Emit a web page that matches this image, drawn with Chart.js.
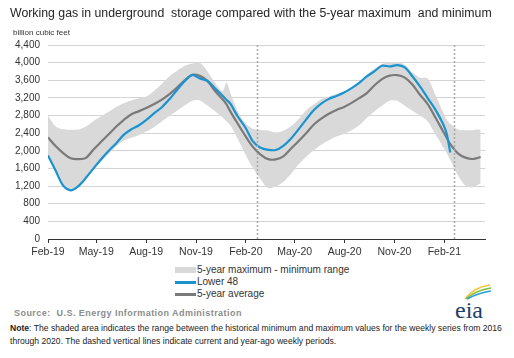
<!DOCTYPE html>
<html>
<head>
<meta charset="utf-8">
<script src="https://cdn.jsdelivr.net/npm/chart.js@4.4.1/dist/chart.umd.min.js"></script>
<style>
  html, body { margin: 0; padding: 0; background: #fff; }
  body { width: 514px; height: 358px; position: relative; overflow: hidden;
         font-family: "Liberation Sans", Arial, sans-serif; color: #222; }
  .abs { position: absolute; white-space: nowrap; }
  #title { left: 10px; top: 6px; font-size: 12.3px; color: #262626; }
  #units { left: 13px; top: 28px; font-size: 8px; color: #333; }
  #wrap { position: absolute; left: 0; top: 0; width: 514px; height: 262px; }
  .leg { position: absolute; left: 175px; font-size: 10px; color: #333; height: 12px; line-height: 12px; }
  .leg i { display: inline-block; width: 21px; vertical-align: middle; margin-right: 1px; }
  #source { left: 14px; top: 308px; font-size: 9px; font-weight: bold; color: #8c8c8c; letter-spacing: 0.45px; }
  #note { left: 10px; top: 322px; font-size: 8.6px; line-height: 13px; color: #222; }
  #logo { left: 452px; top: 282px; }
</style>
</head>
<body>
<div id="wrap"><canvas id="chart" width="514" height="262"></canvas></div>
<div class="abs" id="title">Working gas in underground&nbsp; storage compared with the 5-year maximum&nbsp; and minimum</div>
<div class="abs" id="units">billion cubic feet</div>
<div class="leg" style="top:264px"><i style="height:6px;background:#d9d9d9"></i>5-year maximum - minimum range</div>
<div class="leg" style="top:276px"><i style="height:2.5px;background:#1a93cf"></i>Lower 48</div>
<div class="leg" style="top:288px"><i style="height:2.5px;background:#7a7a7a"></i>5-year average</div>
<div class="abs" id="source">Source:&nbsp; U.S. Energy Information Administration</div>
<div class="abs" id="note"><b>Note</b>: The shaded area indicates the range between the historical minimum and maximum values for the weekly series from 2016<br>through 2020. The dashed vertical lines indicate current and year-ago weekly periods.</div>
<svg class="abs" id="logo" width="42" height="40" viewBox="0 0 42 40">
  <path d="M13 17 Q22 5 38 3" stroke="#f2c230" stroke-width="1.6" fill="none"/>
  <path d="M14 17 Q24 8 39 6" stroke="#7cbf3a" stroke-width="1.6" fill="none"/>
  <path d="M15 17 Q26 11 39 9" stroke="#2b9fd6" stroke-width="1.6" fill="none"/>
  <text x="3" y="36" font-family="Liberation Serif, serif" font-size="24" fill="#1d3f66">eia</text>
</svg>

<script>
// days since 1 Feb 2019 (roughly every two weeks)
const days = [0, 14, 28, 42, 56, 70, 84, 98, 112, 126, 140, 154, 168, 182, 196, 210, 224, 238, 252, 266,
  280, 294, 308, 322, 329, 336, 350, 364, 378, 392, 406, 420, 434, 448, 462, 476, 490, 504, 518, 532,
  546, 560, 574, 588, 602, 616, 630, 644, 658, 672, 686, 700, 714, 728, 735, 742, 756, 770, 784, 798];

const lower48 = [1895, 1551, 1210, 1105, 1200, 1388, 1602, 1808, 2000, 2173, 2366, 2488, 2580, 2707, 2853, 2987, 3171, 3378, 3576, 3720,
  3640, 3589, 3418, 3246, 3160, 3075, 2778, 2530, 2215, 2069, 2023, 2018, 2114, 2276, 2485, 2709, 2920, 3070, 3178, 3243,
  3322, 3423, 3543, 3686, 3802, 3929, 3913, 3943, 3891, 3690, 3461, 3203, 2945, 2626, 2401, 1960, null, null, null, null];

const fiveYearAvg = [2303, 2110, 1950, 1830, 1812, 1840, 2030, 2205, 2377, 2550, 2704, 2831, 2900, 2975, 3060, 3160, 3285, 3433, 3596, 3722,
  3700, 3582, 3357, 3170, 3057, 2901, 2613, 2338, 2090, 1915, 1812, 1805, 1872, 2046, 2219, 2400, 2593, 2729, 2841, 2927,
  2996, 3088, 3194, 3308, 3482, 3627, 3704, 3716, 3660, 3502, 3272, 3065, 2768, 2457, 2302, 2150, 1942, 1845, 1815, 1860];

const fiveYearMax = [2794, 2552, 2487, 2479, 2484, 2550, 2679, 2782, 2887, 2995, 3078, 3142, 3190, 3235, 3365, 3523, 3693, 3814, 3922, 3980,
  3998, 3803, 3544, 3355, 3548, 3320, 2893, 2633, 2500, 2472, 2461, 2415, 2457, 2557, 2715, 2916, 3048, 3167, 3232, 3287,
  3330, 3430, 3557, 3727, 3862, 3968, 4010, 4009, 3954, 3783, 3660, 3640, 3280, 2900, 2713, 2613, 2484, 2464, 2475, 2491];

const fiveYearMin = [1880, 1530, 1195, 1090, 1185, 1370, 1575, 1763, 1932, 2104, 2233, 2295, 2357, 2441, 2543, 2664, 2787, 2908, 3026, 3133,
  3144, 3028, 2900, 2755, 2669, 2584, 2270, 1925, 1608, 1356, 1155, 1188, 1294, 1474, 1689, 1862, 2011, 2140, 2237, 2323,
  2388, 2465, 2578, 2744, 2891, 3021, 3138, 3135, 3022, 2907, 2799, 2673, 2385, 2099, 1955, 1789, 1444, 1208, 1173, 1268];

const tickDays = [0, 89, 181, 273, 365, 455, 547, 639, 731];
const tickLabels = ["Feb-19", "May-19", "Aug-19", "Nov-19", "Feb-20", "May-20", "Aug-20", "Nov-20", "Feb-21"];
const weekMarkers = [385, 749]; // year-ago and current week

const pts = (vals) => days.map((d, i) => ({ x: d, y: vals[i] }));

const dashedLines = {
  id: "dashedLines",
  afterDatasetsDraw(chart) {
    const { ctx, chartArea, scales } = chart;
    ctx.save();
    ctx.strokeStyle = "#a8a8a8";
    ctx.lineWidth = 1.5;
    ctx.setLineDash([2, 2]);
    weekMarkers.forEach((d) => {
      const x = Math.round(scales.x.getPixelForValue(d)) + 0.5;
      ctx.beginPath();
      ctx.moveTo(x, chartArea.top);
      ctx.lineTo(x, chartArea.bottom);
      ctx.stroke();
    });
    ctx.restore();
  },
};

const font = { family: '"Liberation Sans", Arial, sans-serif', size: 10 };

new Chart(document.getElementById("chart"), {
  type: "line",
  data: {
    datasets: [
      { label: "Lower 48", data: pts(lower48), borderColor: "#1a93cf", borderWidth: 2.2, pointRadius: 0, tension: 0.3, fill: false, spanGaps: false },
      { label: "5-year average", data: pts(fiveYearAvg), borderColor: "#7a7a7a", borderWidth: 2.2, pointRadius: 0, tension: 0.3, fill: false },
      { label: "5-year maximum", data: pts(fiveYearMax), borderWidth: 0, borderColor: "rgba(0,0,0,0)", pointRadius: 0, tension: 0.3, fill: "+1", backgroundColor: "#d9d9d9" },
      { label: "5-year minimum", data: pts(fiveYearMin), borderWidth: 0, borderColor: "rgba(0,0,0,0)", pointRadius: 0, tension: 0.3, fill: false },
    ],
  },
  options: {
    responsive: false,
    animation: false,
    layout: { padding: { left: 0, right: 29, top: 45, bottom: 0 } },
    plugins: { legend: { display: false }, tooltip: { enabled: false } },
    scales: {
      x: {
        type: "linear",
        min: 0,
        max: 806,
        afterBuildTicks: (scale) => { scale.ticks = tickDays.map((v) => ({ value: v })); },
        afterFit: (scale) => { scale.height = 23; },
        ticks: {
          autoSkip: false,
          maxRotation: 0,
          padding: 3,
          color: "#333",
          font: { ...font, size: 10.5 },
          callback: (v) => tickLabels[tickDays.indexOf(v)] ?? "",
        },
        grid: { drawOnChartArea: false, drawTicks: true, tickLength: 4, color: "#333" },
        border: { display: true, color: "#333", width: 1 },
      },
      y: {
        min: 0,
        max: 4400,
        afterFit: (scale) => { scale.width = 48; },
        ticks: {
          stepSize: 400,
          padding: 8,
          color: "#333",
          font,
          callback: (v) => v.toLocaleString("en-US"),
        },
        grid: { color: "#d4d4d4", drawTicks: false },
        border: { display: false },
      },
    },
  },
  plugins: [dashedLines],
});
</script>
</body>
</html>
